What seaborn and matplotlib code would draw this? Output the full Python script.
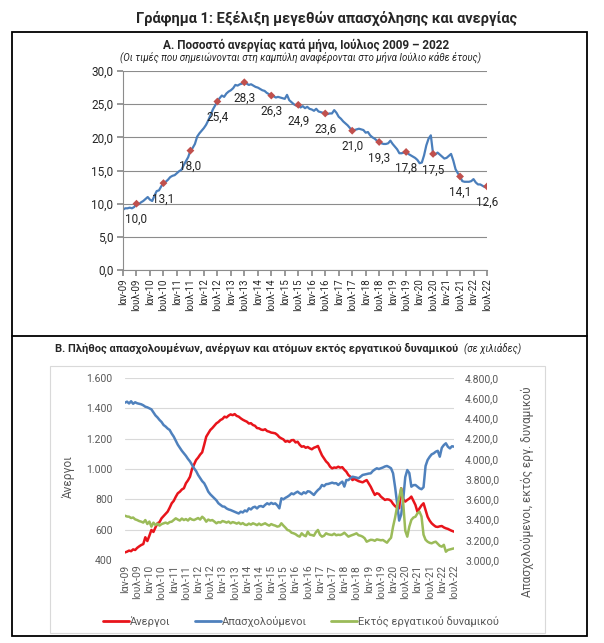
import matplotlib
matplotlib.use("Agg")
import matplotlib.pyplot as plt
import numpy as np
import pandas as pd
import seaborn as sns
from matplotlib.lines import Line2D
from matplotlib.patches import Rectangle
from matplotlib.ticker import FuncFormatter

# monthly values, Jan 2009 .. Jul 2022 (163 months)
unemp_rate = [
    9.1, 9.3, 9.3, 9.4, 9.3, 9.5, 10.0, 9.9, 10.2, 10.4, 10.7, 11.0,          # 2009
    10.6, 10.4, 11.2, 11.9, 12.0, 12.6, 13.1, 13.3, 13.6, 14.0, 14.2, 14.3,   # 2010
    14.6, 14.9, 15.1, 15.8, 16.4, 17.0, 18.0, 18.4, 19.0, 20.1, 20.6, 21.0,   # 2011
    21.4, 21.9, 22.6, 23.4, 24.2, 24.8, 25.4, 25.9, 26.3, 26.1, 26.6, 26.9,   # 2012
    27.1, 27.4, 27.9, 27.8, 28.0, 28.1, 28.3, 28.1, 27.9, 28.0, 27.8, 27.6,   # 2013
    27.5, 27.3, 27.1, 27.0, 26.7, 26.5, 26.3, 26.2, 26.0, 26.1, 26.0, 25.9,   # 2014
    25.8, 26.4, 25.6, 25.3, 25.0, 24.8, 24.9, 24.5, 24.7, 24.4, 24.6, 24.3,   # 2015
    24.2, 24.0, 24.3, 23.9, 23.8, 23.7, 23.6, 23.5, 23.6, 23.6, 24.1, 23.7,   # 2016
    23.1, 22.8, 22.4, 22.1, 21.8, 21.4, 21.0, 21.1, 21.2, 21.3, 21.2, 21.1,   # 2017
    20.7, 20.8, 20.3, 20.0, 19.8, 19.5, 19.3, 19.1, 19.0, 19.0, 19.1, 19.5,   # 2018
    19.0, 18.6, 18.2, 17.6, 17.6, 17.7, 17.8, 17.5, 17.3, 17.1, 16.9, 16.6,   # 2019
    16.1, 16.2, 17.3, 18.8, 19.8, 20.3, 17.5, 17.4, 17.7, 17.4, 17.1, 16.8,   # 2020
    16.9, 17.2, 17.5, 16.5, 15.2, 14.6, 14.1, 13.4, 13.3, 13.3, 13.3, 13.4,   # 2021
    13.7, 13.2, 12.9, 12.9, 12.7, 12.5, 12.6,                                 # 2022
]

unemployed = [
    450, 455, 462, 458, 470, 466, 480, 490, 499, 505, 550, 525,
    560, 598, 585, 615, 642, 650, 675, 690, 705, 719, 745, 774,
    790, 817, 840, 850, 865, 873, 906, 925, 949, 1000, 1030, 1059,
    1075, 1095, 1110, 1160, 1213, 1235, 1257, 1270, 1285, 1301, 1310, 1323,
    1330, 1345, 1340, 1352, 1360, 1355, 1362, 1350, 1345, 1334, 1325, 1318,
    1312, 1300, 1302, 1290, 1285, 1270, 1268, 1260, 1257, 1262, 1250, 1246,
    1240, 1238, 1235, 1225, 1210, 1202, 1195, 1180, 1185, 1178, 1190, 1191,
    1175, 1180, 1160, 1147, 1150, 1140, 1145, 1136, 1130, 1140, 1145, 1152,
    1120, 1090, 1070, 1050, 1037, 1015, 1004, 1010, 1008, 1015, 1009, 1012,
    995, 982, 960, 949, 927, 935, 927, 920, 916, 912, 920, 927,
    905, 883, 855, 829, 840, 835, 818, 807, 796, 800, 798, 790,
    770, 755, 745, 741, 873, 800, 785, 796, 805, 818, 790, 763,
    718, 740, 760, 774, 730, 685, 660, 642, 630, 620, 618, 622,
    624, 615, 609, 605, 598, 592, 587,
]

employed = [
    4556, 4566, 4548, 4570, 4545, 4560, 4550, 4545, 4540, 4530, 4516, 4510,
    4500, 4490, 4460, 4430, 4410, 4385, 4365, 4335, 4320, 4300, 4286, 4250,
    4220, 4180, 4140, 4110, 4080, 4055, 4030, 4000, 3975, 3940, 3907, 3880,
    3841, 3810, 3780, 3759, 3720, 3676, 3650, 3630, 3610, 3590, 3561, 3545,
    3530, 3527, 3510, 3500, 3494, 3485, 3475, 3468, 3460, 3478, 3470, 3490,
    3480, 3511, 3500, 3520, 3527, 3510, 3530, 3534, 3525, 3545, 3561, 3550,
    3565, 3554, 3560, 3540, 3511, 3610, 3600, 3615, 3626, 3640, 3659, 3650,
    3665, 3676, 3660, 3650, 3670, 3659, 3680, 3676, 3660, 3643, 3670, 3692,
    3709, 3742, 3730, 3750, 3752, 3758, 3765, 3758, 3760, 3742, 3760, 3775,
    3726, 3791, 3790, 3810, 3824, 3820, 3815, 3808, 3825, 3841, 3845, 3850,
    3855, 3857, 3880, 3895, 3907, 3900, 3907, 3915, 3925, 3930, 3920, 3907,
    3857, 3720, 3560, 3390, 3450, 3600, 3820, 3890, 3860, 3725, 3740, 3742,
    3725, 3709, 3700, 3720, 3930, 3989, 4020, 4045, 4055, 4071, 4080, 4022,
    4110, 4137, 4154, 4120, 4104, 4125, 4121,
]

outside_lf = [
    3438, 3430, 3428, 3415, 3420, 3402, 3395, 3385, 3379, 3370, 3395, 3356,
    3380, 3330, 3369, 3346, 3360, 3340, 3355, 3363, 3370, 3360, 3375, 3379,
    3395, 3412, 3400, 3390, 3410, 3395, 3405, 3390, 3412, 3400, 3395, 3405,
    3415, 3400, 3428, 3410, 3379, 3400, 3390, 3395, 3380, 3363, 3375, 3370,
    3385, 3379, 3370, 3380, 3363, 3375, 3369, 3360, 3370, 3355, 3365, 3350,
    3346, 3360, 3350, 3363, 3355, 3345, 3360, 3346, 3355, 3363, 3350, 3340,
    3355, 3346, 3340, 3330, 3335, 3363, 3340, 3320, 3297, 3290, 3270, 3264,
    3255, 3240, 3231, 3264, 3245, 3235, 3280, 3250, 3247, 3240, 3275, 3297,
    3250, 3231, 3240, 3264, 3255, 3250, 3247, 3260, 3245, 3250, 3247, 3255,
    3270, 3250, 3231, 3240, 3247, 3255, 3264, 3245, 3240, 3231, 3215, 3181,
    3190, 3200, 3198, 3190, 3204, 3200, 3195, 3198, 3185, 3171, 3198, 3220,
    3330, 3420, 3530, 3620, 3709, 3560, 3290, 3231, 3330, 3396, 3420, 3428,
    3461, 3478, 3430, 3250, 3200, 3181, 3170, 3165, 3175, 3181, 3160, 3140,
    3132, 3150, 3082, 3099, 3105, 3110, 3115,
]

years = list(range(9, 23))
tick_labels = [lab for y in years for lab in (f"Ιαν-{y:02d}", f"Ιουλ-{y:02d}")]

series_names = ["Άνεργοι", "Απασχολούμενοι", "Εκτός εργατικού δυναμικού"]

W, H = 604, 643

sns.set_theme(style="white")
plt.rcParams["font.family"] = ["Roboto", "DejaVu Sans"]

BLUE_A = "#4a7ebb"
MARK = "#c0504d"
RED = "#e8141b"
BLUE = "#4f81bd"
GREEN = "#9bbb59"
GREY_TXT = "#595959"


def box(x, y, w, h):
    return [x / W, 1 - (y + h) / H, w / W, h / H]


def gr_dec(v, _=None):
    return f"{v:.1f}".replace(".", ",")


def gr_int(v, _=None):
    return f"{int(round(v)):,}".replace(",", ".")


def gr_thou(v, _=None):
    return f"{v:,.1f}".replace(",", "X").replace(".", ",").replace("X", ".")


months = np.arange(len(unemp_rate))
df = pd.DataFrame({
    "month": months,
    "rate": unemp_rate,
    "unemployed": unemployed,
    "employed": employed,
    "outside": outside_lf,
})
tick_pos = months[::6]

fig = plt.figure(figsize=(W / 100, H / 100), dpi=100)

# frames
fig.add_artist(Rectangle((12 / W, 1 - 636 / H), 575 / W, 604 / H, transform=fig.transFigure,
                         fill=False, lw=1.3, ec="black"))
fig.add_artist(Line2D([12 / W, 587 / W], [1 - 336 / H] * 2, transform=fig.transFigure,
                      lw=1.3, color="black"))
fig.add_artist(Rectangle((50 / W, 1 - 633 / H), 495 / W, 267 / H, transform=fig.transFigure,
                         fill=False, lw=0.8, ec="#d9d9d9"))

fig.text(327 / W, 1 - 18 / H, "Γράφημα 1: Εξέλιξη μεγεθών απασχόλησης και ανεργίας",
         ha="center", va="center", fontsize=10.5, weight="bold")
fig.text(306 / W, 1 - 45 / H, "Α. Ποσοστό ανεργίας κατά μήνα, Ιούλιος 2009 – 2022",
         ha="center", va="center", fontsize=8.5, weight="bold")
fig.text(300 / W, 1 - 57 / H,
         "(Οι τιμές που σημειώνονται στη καμπύλη αναφέρονται στο μήνα Ιούλιο κάθε έτους)",
         ha="center", va="center", fontsize=7, style="italic")

# --- A: unemployment rate ---
ax1 = fig.add_axes(box(123, 71, 364, 199))
sns.lineplot(data=df, x="month", y="rate", ax=ax1, color=BLUE_A, lw=1.6)
july = df[df["month"] % 12 == 6]
sns.scatterplot(data=july, x="month", y="rate", ax=ax1, marker="D", s=16,
                color=MARK, edgecolor="none", zorder=3)
for m, v in zip(july["month"], july["rate"]):
    ax1.annotate(gr_dec(v), (m, v), xytext=(0, -11.5), textcoords="offset points",
                 ha="center", va="center", fontsize=8.5)
ax1.set_xlim(0, 162)
ax1.set_ylim(0, 30)
ax1.set_yticks(np.arange(0, 31, 5))
ax1.yaxis.set_major_formatter(FuncFormatter(gr_dec))
ax1.set_xticks(tick_pos)
ax1.set_xticklabels(tick_labels, rotation=90, fontsize=7)
ax1.tick_params(axis="y", labelsize=8.5, length=4, color="#8c8c8c", left=True, pad=3)
ax1.tick_params(axis="x", length=4, color="#8c8c8c", bottom=True, pad=2)
ax1.grid(axis="y", color="#8c8c8c", lw=0.8)
ax1.set_axisbelow(True)
for s in ["top", "right"]:
    ax1.spines[s].set_visible(False)
for s in ["left", "bottom"]:
    ax1.spines[s].set_color("#8c8c8c")
    ax1.spines[s].set_linewidth(0.8)
ax1.set_xlabel("")
ax1.set_ylabel("")

# --- B: employed / unemployed / outside labour force ---
fig.text(458 / W, 1 - 348 / H,
         "Β. Πλήθος απασχολουμένων, ανέργων και ατόμων εκτός εργατικού δυναμικού",
         ha="right", va="center", fontsize=8, weight="bold")
fig.text(464 / W, 1 - 348 / H, "(σε χιλιάδες)", ha="left", va="center",
         fontsize=7, style="italic")

ax2 = fig.add_axes(box(125, 378, 329, 182))
sns.lineplot(data=df, x="month", y="unemployed", ax=ax2, color=RED, lw=1.8)
ax3 = ax2.twinx()
sns.lineplot(data=df, x="month", y="employed", ax=ax3, color=BLUE, lw=1.8)
sns.lineplot(data=df, x="month", y="outside", ax=ax3, color=GREEN, lw=1.8)

ax2.set_xlim(0, 162)
ax2.set_ylim(400, 1600)
ax2.set_yticks(np.arange(400, 1601, 200))
ax2.yaxis.set_major_formatter(FuncFormatter(gr_int))
ax3.set_ylim(3000, 4800)
ax3.set_yticks(np.arange(3000, 4801, 200))
ax3.yaxis.set_major_formatter(FuncFormatter(gr_thou))
ax2.set_xticks(tick_pos)
ax2.set_xticklabels(tick_labels, rotation=90, fontsize=7, color=GREY_TXT)
ax2.grid(axis="y", color="#d9d9d9", lw=0.8)
ax2.set_axisbelow(True)
ax2.tick_params(axis="both", length=0, labelsize=7.5, labelcolor=GREY_TXT)
ax2.tick_params(axis="y", pad=9)
ax3.tick_params(axis="y", length=0, labelsize=7.5, labelcolor=GREY_TXT, pad=8)
for a in (ax2, ax3):
    for s in a.spines.values():
        s.set_visible(False)
    a.set_xlabel("")
    a.set_ylabel("")

fig.text(68 / W, 1 - 477 / H, series_names[0], rotation=90, ha="center", va="center",
         fontsize=8.5, color=GREY_TXT)
fig.text(527 / W, 1 - 492 / H, "Απασχολούμενοι, εκτός εργ. δυναμικού", rotation=90,
         ha="center", va="center", fontsize=8.5, color=GREY_TXT)

handles = [Line2D([], [], color=c, lw=2) for c in (RED, BLUE, GREEN)]
leg = fig.legend(handles, series_names, loc="center", bbox_to_anchor=(301 / W, 1 - 622 / H),
                 ncol=3, frameon=False, fontsize=8, handlelength=2.3, handletextpad=0.1,
                 columnspacing=2.2)
for t in leg.get_texts():
    t.set_color(GREY_TXT)

fig.savefig("out.png", dpi=100)
